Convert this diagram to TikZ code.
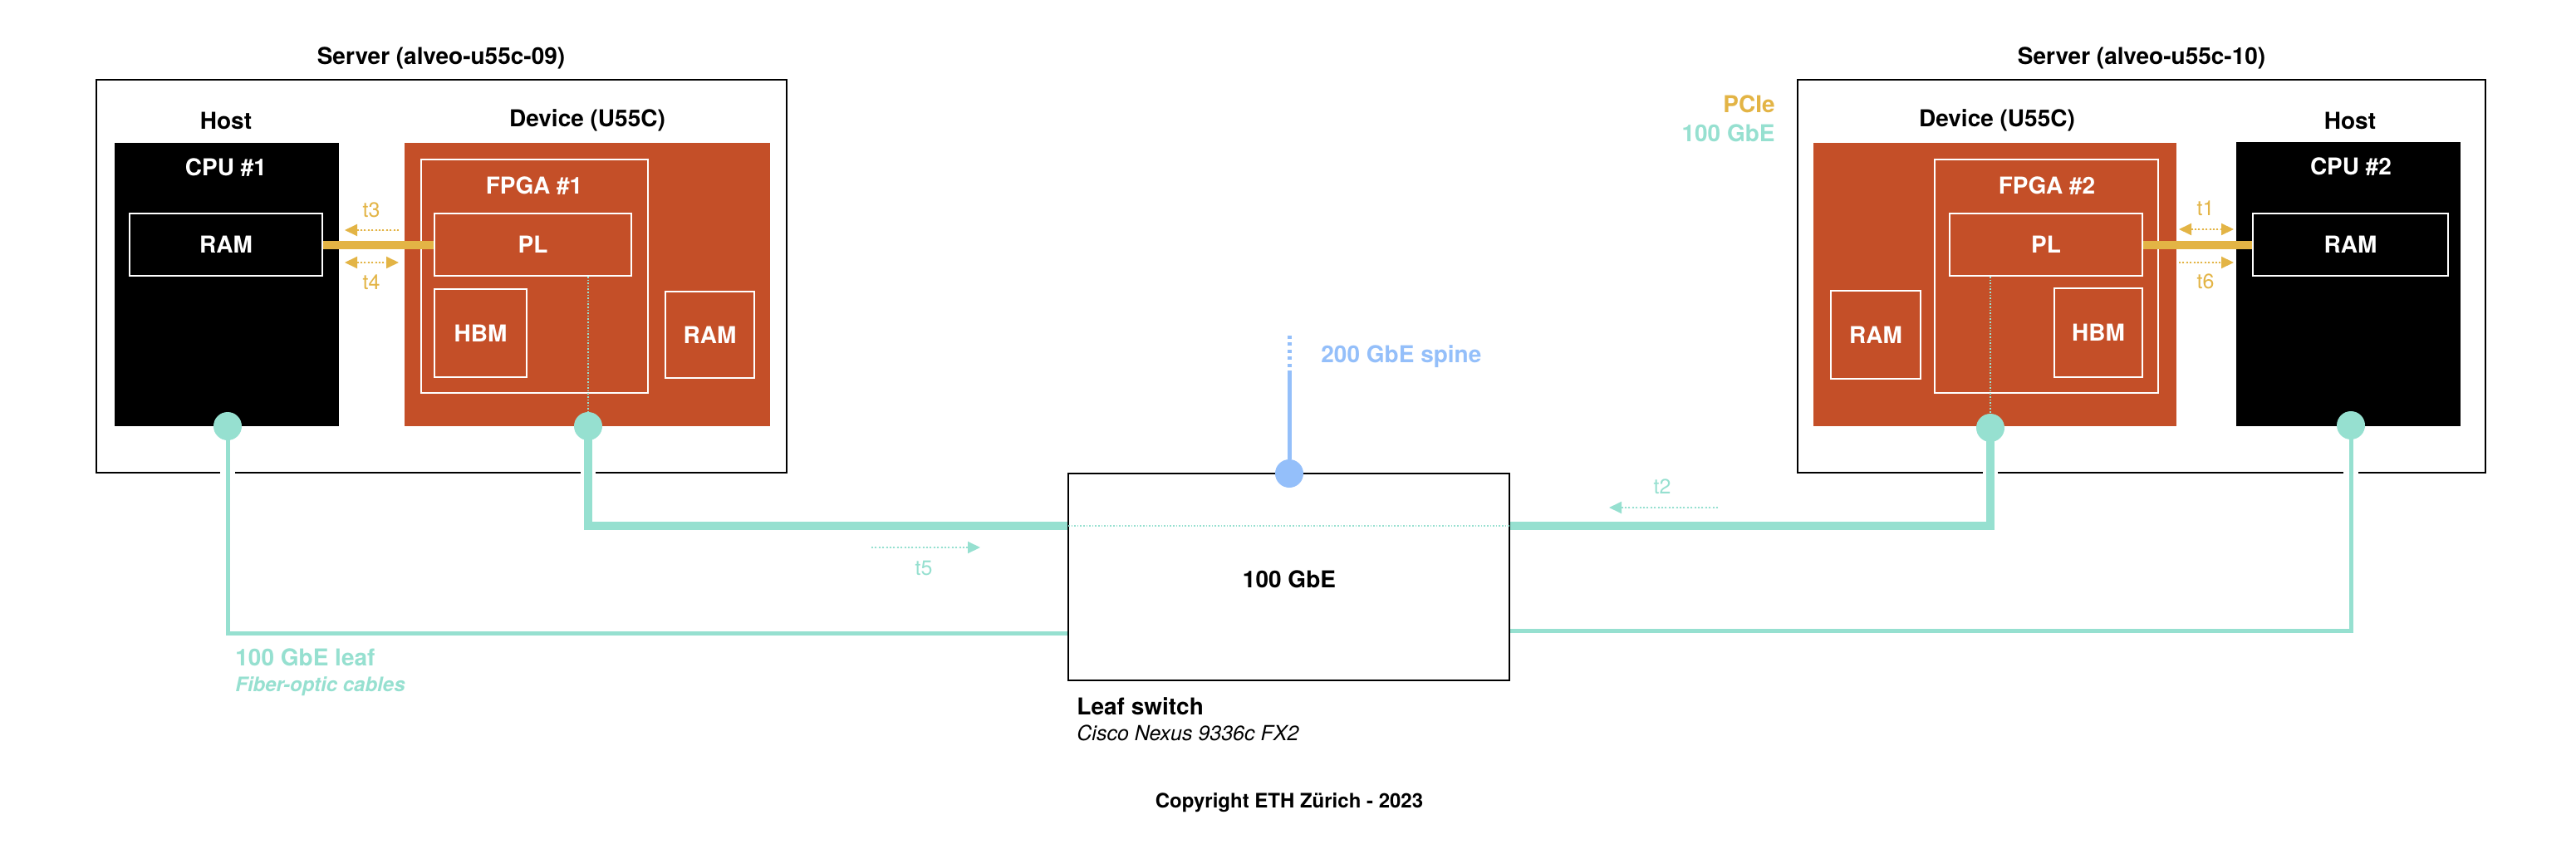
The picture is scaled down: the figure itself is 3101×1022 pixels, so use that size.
\documentclass[tikz,border=0pt]{standalone}
\usepackage{fontspec}
\setmainfont{TeX Gyre Heros}
\usetikzlibrary{fit,arrows.meta}
\definecolor{devorange}{RGB}{196,79,40}
\definecolor{teal}{RGB}{150,224,208}
\definecolor{gold}{RGB}{227,180,69}
\definecolor{spineblue}{RGB}{148,191,250}
\tikzset{
  frame/.style={draw=black, line width=1.25pt, inner sep=0pt},
  cpubox/.style={fill=black, inner sep=0pt},
  devbox/.style={fill=devorange, inner sep=0pt},
  wbox/.style={draw=white, line width=1pt, inner sep=0pt},
  lbl/.style={font=\bfseries\fontsize{14pt}{16pt}\selectfont, inner sep=0pt},
  wlbl/.style={lbl, text=white},
  tlbl/.style={font=\fontsize{12.5pt}{14pt}\selectfont, inner sep=0pt},
  pcie/.style={draw=gold, line width=5pt},
  tarrow/.style={line width=1pt, dash pattern=on 1pt off 1.2pt, -{Triangle[length=7.5pt,width=7pt]}},
  tdarrow/.style={line width=1pt, dash pattern=on 1pt off 1.2pt, {Triangle[length=7.5pt,width=7pt]}-{Triangle[length=7.5pt,width=7pt]}},
  thick100/.style={draw=teal, line width=5pt},
  thin100/.style={draw=teal, line width=2.5pt},
  halo/.style={draw=white, line width=9pt},
  port/.style={circle, fill=teal, minimum size=17pt, inner sep=0pt},
  tdot/.style={draw=teal, line width=0.8pt, dash pattern=on 0.8pt off 1pt},
}
\begin{document}
\begin{tikzpicture}[x=0.5pt, y=-0.5pt]
\useasboundingbox[fill=white] (0,0) rectangle (3101,1022);

% ---------- Server 1 ----------
\node[frame, fit={(116,96)(947,569)}] (srv1) {};
\node[lbl] (srv1t) at (531,70) {Server (alveo-u55c-09)};
\node[lbl] (host1t) at (272,145) {Host};
\node[lbl] (dev1t) at (707,145) {Device (U55C)};
\node[cpubox, fit={(138,172)(408,513)}] (cpu1) {};
\node[wlbl] (cpu1t) at (272,202) {CPU \#1};
\node[wbox, fit={(156,257)(388,332)}, label={[wlbl]center:RAM}] (hram1) {};
\node[devbox, fit={(487,172)(927,513)}] (dev1) {};
\node[wbox, fit={(507,192)(780,473)}] (fpga1) {};
\node[wlbl] (fpga1t) at (643,224) {FPGA \#1};
\node[wbox, fit={(523,257)(760,332)}, label={[wlbl]center:PL}] (pl1) {};
\node[wbox, fit={(523,348)(634,454)}, label={[wlbl]center:HBM}] (hbm1) {};
\node[wbox, fit={(801,351)(908,455)}, label={[wlbl]center:RAM}] (dram1) {};

% ---------- Server 2 ----------
\node[frame, fit={(2164,96)(2992,569)}] (srv2) {};
\node[lbl] (srv2t) at (2578,70) {Server (alveo-u55c-10)};
\node[lbl] (dev2t) at (2404,145) {Device (U55C)};
\node[lbl] (host2t) at (2829,145) {Host};
\node[devbox, fit={(2183,172)(2620,513)}] (dev2) {};
\node[wbox, fit={(2329,192)(2598,473)}] (fpga2) {};
\node[wlbl] (fpga2t) at (2464,224) {FPGA \#2};
\node[wbox, fit={(2347,257)(2579,332)}, label={[wlbl]center:PL}] (pl2) {};
\node[wbox, fit={(2204,350)(2312,456)}, label={[wlbl]center:RAM}] (dram2) {};
\node[wbox, fit={(2473,347)(2579,454)}, label={[wlbl]center:HBM}] (hbm2) {};
\node[cpubox, fit={(2692,171)(2962,513)}] (cpu2) {};
\node[wlbl] (cpu2t) at (2830,201) {CPU \#2};
\node[wbox, fit={(2712,257)(2947,332)}, label={[wlbl]center:RAM}] (hram2) {};

% ---------- legend ----------
\node[lbl, text=gold, anchor=east] (legp) at (2137,125) {PCIe};
\node[lbl, text=teal, anchor=east] (lege) at (2137,160) {100 GbE};

% ---------- PCIe links ----------
\draw[pcie] (hram1.east) -- (pl1.west);
\draw[pcie] (pl2.east) -- (hram2.west);

% ---------- timing arrows ----------
\coordinate (t3a) at (480,277); \coordinate (t3b) at (415,277);
\coordinate (t4a) at (415,316); \coordinate (t4b) at (480,316);
\draw[tarrow, draw=gold, fill=gold] (t3a) -- (t3b);
\draw[tdarrow, draw=gold, fill=gold] (t4a) -- (t4b);
\node[tlbl, text=gold] (t3) at (447,253) {t3};
\node[tlbl, text=gold] (t4) at (447,340) {t4};
\coordinate (t1a) at (2623,276); \coordinate (t1b) at (2689,276);
\coordinate (t6a) at (2623,316); \coordinate (t6b) at (2689,316);
\draw[tdarrow, draw=gold, fill=gold] (t1a) -- (t1b);
\draw[tarrow, draw=gold, fill=gold] (t6a) -- (t6b);
\node[tlbl, text=gold] (t1) at (2655,251) {t1};
\node[tlbl, text=gold] (t6) at (2655,339) {t6};
\coordinate (t5a) at (1049,659); \coordinate (t5b) at (1180,659);
\draw[tarrow, draw=teal, fill=teal] (t5a) -- (t5b);
\node[tlbl, text=teal] (t5) at (1112,684) {t5};
\coordinate (t2a) at (2068,611); \coordinate (t2b) at (1937,611);
\draw[tarrow, draw=teal, fill=teal] (t2a) -- (t2b);
\node[tlbl, text=teal] (t2) at (2001,586) {t2};

% ---------- ports ----------
\coordinate (p1) at (274,513);
\coordinate (p2) at (708,513);
\coordinate (p3) at (2396,515);
\coordinate (p4) at (2830,512);

% ---------- leaf switch ----------
\coordinate (leafnw) at (1286,570);
\coordinate (leafse) at (1817,819);
\coordinate (l1) at (1286,762);
\coordinate (l2) at (1286,633);
\coordinate (r2) at (1817,633);
\coordinate (r1) at (1817,759);

% halos (gaps where cables cross the server frames)
\draw[halo] ([yshift=-9pt]p1) |- (l1);
\draw[halo] ([yshift=-9pt]p2) |- (l2);
\draw[halo] ([yshift=-9pt]p3) |- (r2);
\draw[halo] ([yshift=-9pt]p4) |- (r1);

% cables
\draw[thin100] (p1) |- (l1);
\draw[thick100] (p2) |- (l2);
\draw[thick100] (p3) |- (r2);
\draw[thin100] (p4) |- (r1);

% internal dotted links PL -> port
\draw[tdot] (pl1.south -| p2) -- (p2);
\draw[tdot] (pl2.south -| p3) -- (p3);

\node[frame, fit=(leafnw)(leafse)] (leaf) {};
\node[lbl] (leaft) at (1552,697) {100 GbE};
\draw[tdot] (l2) -- (r2);

% spine
\node[circle, fill=spineblue, minimum size=17pt, inner sep=0pt] (spc) at (1552,570) {};
\coordinate (sp1) at (1552,450);
\coordinate (sp2) at (1552,400);
\draw[draw=spineblue, line width=2.5pt] (spc) -- (sp1);
\draw[draw=spineblue, line width=2.5pt, dash pattern=on 2pt off 2.2pt] (sp1) -- (sp2);
\node[lbl, text=spineblue, anchor=west] (spinet) at (1590,429) {200 GbE spine};

% port circles
\node[port] (c1) at (p1) {};
\node[port] (c2) at (p2) {};
\node[port] (c3) at (p3) {};
\node[port] (c4) at (p4) {};

% captions
\node[lbl, anchor=west] (leafcap) at (1296,850) {Leaf switch};
\node[font=\itshape\fontsize{12.5pt}{14pt}\selectfont, inner sep=0pt, anchor=west] (leafsub) at (1296,882) {Cisco Nexus 9336c FX2};
\node[lbl, text=teal, anchor=west] (leafl) at (283,791) {100 GbE leaf};
\node[font=\bfseries\itshape\fontsize{12pt}{14pt}\selectfont, text=teal, inner sep=0pt, anchor=west] (fiber) at (283,826) {Fiber-optic cables};
\node[font=\bfseries\fontsize{12pt}{14pt}\selectfont, inner sep=0pt] (copy) at (1552,966) {Copyright ETH Zürich - 2023};
\end{tikzpicture}
\end{document}
